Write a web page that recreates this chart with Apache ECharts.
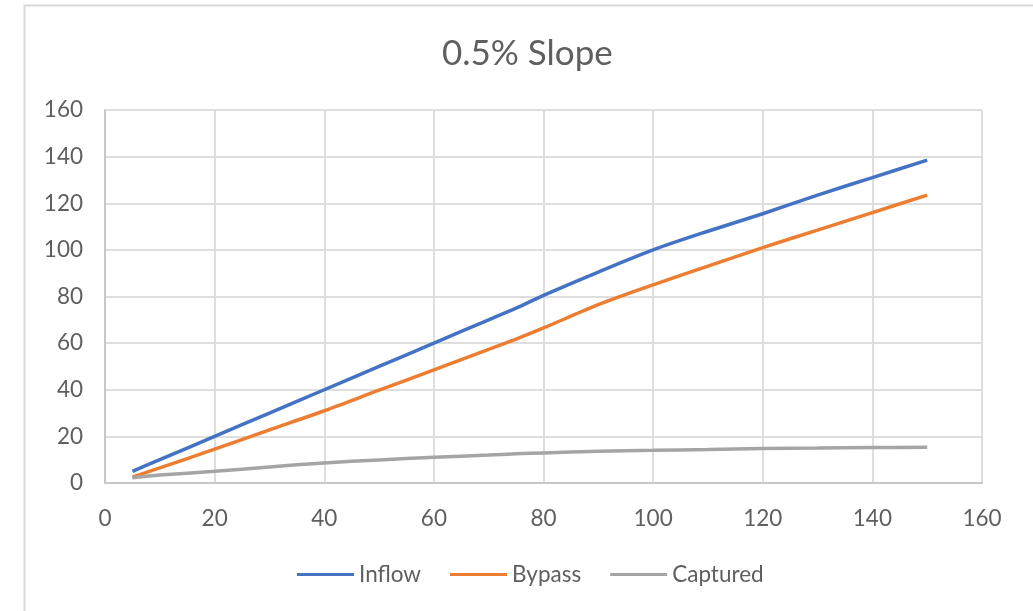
<!DOCTYPE html>
<html>
<head>
<meta charset="utf-8">
<script src="https://cdn.jsdelivr.net/npm/echarts@6/dist/echarts.min.js"></script>
<style>
  html, body { margin: 0; padding: 0; background: #ffffff; }
  #chart { width: 1033px; height: 611px; }
</style>
</head>
<body>
<div id="chart"></div>
<script>
// Flow (x) against inflow, bypassed and captured flow
const flowX    = [5, 10, 20, 30, 40, 50, 60, 70, 75, 80, 90, 100, 110, 120, 130, 140, 150];
const inflow   = [5, 10, 20, 30, 40, 50, 60, 70, 75, 80.5, 90.5, 100, 108, 115.5, 123.5, 131, 138.5];
const bypass   = [2.5, 6.5, 14.5, 22.8, 31, 39.8, 48.5, 57.3, 61.7, 66.5, 76.5, 85, 93, 101, 108.5, 116, 123.5];
const captured = [2.3, 3.4, 5, 6.9, 8.6, 9.9, 11, 12, 12.5, 12.9, 13.6, 14, 14.4, 14.8, 15, 15.2, 15.3];
const xTicks = [0, 20, 40, 60, 80, 100, 120, 140, 160];
const yTicks = [0, 20, 40, 60, 80, 100, 120, 140, 160];

const pairs = ys => flowX.map((x, i) => [x, ys[i]]);
const textColor = '#5f5f5f';
const fontFamily = 'Lato, "Liberation Sans", sans-serif';

const chart = echarts.init(document.getElementById('chart'), null, { renderer: 'canvas' });
chart.setOption({
  backgroundColor: '#ffffff',
  animation: false,
  textStyle: { fontFamily: fontFamily, color: textColor },
  title: {
    text: '0.5% Slope',
    left: 437,
    top: 31,
    textStyle: { fontSize: 35, fontWeight: 'normal', color: textColor, fontFamily: fontFamily }
  },
  graphic: [{
    type: 'rect',
    shape: { x: 24.5, y: 5.5, width: 1020, height: 620 },
    style: { fill: null, stroke: '#d9d9d9', lineWidth: 2 },
    silent: true
  }],
  legend: {
    bottom: 20,
    left: 292,
    itemWidth: 57,
    itemHeight: 3,
    itemGap: 29,
    icon: 'rect',
    textStyle: { fontSize: 22.5, color: textColor, fontFamily: fontFamily },
    data: ['Inflow', 'Bypass', 'Captured']
  },
  grid: { left: 105, right: 51, top: 110, bottom: 128, containLabel: false },
  xAxis: {
    type: 'value',
    min: xTicks[0],
    max: xTicks[xTicks.length - 1],
    interval: xTicks[1] - xTicks[0],
    axisLine: { show: true, lineStyle: { color: '#c8c8c8', width: 2 } },
    axisTick: { show: false },
    axisLabel: { fontSize: 22.5, color: textColor, margin: 24, fontFamily: fontFamily },
    splitLine: { show: true, lineStyle: { color: '#dedede', width: 2 } }
  },
  yAxis: {
    type: 'value',
    min: yTicks[0],
    max: yTicks[yTicks.length - 1],
    interval: yTicks[1] - yTicks[0],
    axisLine: { show: true, lineStyle: { color: '#c8c8c8', width: 2 } },
    axisTick: { show: false },
    axisLabel: { fontSize: 22.5, color: textColor, margin: 22, fontFamily: fontFamily },
    splitLine: { show: true, lineStyle: { color: '#dedede', width: 2 } }
  },
  series: [
    { name: 'Inflow', type: 'line', data: pairs(inflow), smooth: 0.3, showSymbol: false,
      itemStyle: { color: '#4472c4' }, lineStyle: { color: '#4472c4', width: 3.5 } },
    { name: 'Bypass', type: 'line', data: pairs(bypass), smooth: 0.3, showSymbol: false,
      itemStyle: { color: '#ed7d31' }, lineStyle: { color: '#ed7d31', width: 3.5 } },
    { name: 'Captured', type: 'line', data: pairs(captured), smooth: 0.3, showSymbol: false,
      itemStyle: { color: '#a5a5a5' }, lineStyle: { color: '#a5a5a5', width: 3.5 } }
  ]
});
</script>
</body>
</html>
